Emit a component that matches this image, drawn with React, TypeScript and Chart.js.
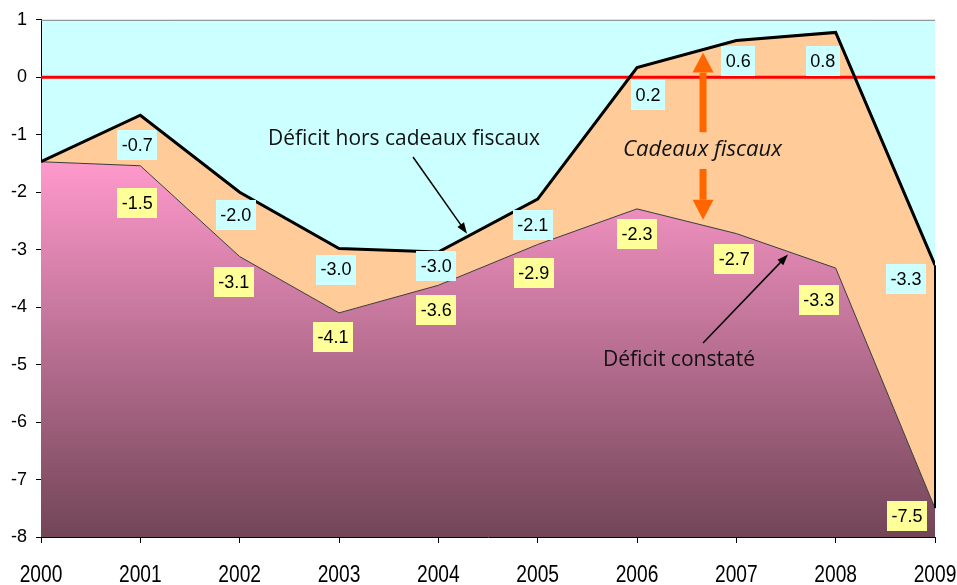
import React, { useEffect, useRef } from "react";
import { Chart, registerables } from "chart.js";

Chart.register(...registerables);

// ---------- data ----------
const years = [2000, 2001, 2002, 2003, 2004, 2005, 2006, 2007, 2008, 2009];
const deficitHorsCadeaux = [-1.47, -0.66, -2.0, -2.98, -3.04, -2.12, 0.17, 0.64, 0.78, -3.27];
const deficitConstate = [-1.47, -1.54, -3.12, -4.1, -3.62, -2.91, -2.29, -2.72, -3.32, -7.5];
const horsLabels = ["", "-0.7", "-2.0", "-3.0", "-3.0", "-2.1", "0.2", "0.6", "0.8", "-3.3"];
const constateLabels = ["", "-1.5", "-3.1", "-4.1", "-3.6", "-2.9", "-2.3", "-2.7", "-3.3", "-7.5"];
const yMin = -8;
const yMax = 1;

// ---------- label placement (px offsets from the point) ----------
const horsLabelOffsets = [[0, 0], [-3, 30], [-4, 23], [-3, 21], [-2, 14], [-5, 26], [11, 28], [2, 21], [-13, 29], [-29, 14]];
const constateLabelOffsets = [[0, 0], [-3, 37], [-6, 25], [-6, 24], [-2, 25], [-4, 29], [0, 25], [-2, 25], [-17, 32], [-28, 8]];

// ---------- annotations (data coordinates) ----------
const textNotes = [
  { text: "Déficit hors cadeaux fiscaux", x: 2002.285, y: -1.181, width: 272, size: 21, italic: false },
  { text: "Déficit constaté", x: 2005.658, y: -5.023, width: 152, size: 21, italic: false },
  { text: "Cadeaux fiscaux", x: 2005.859, y: -1.371, width: 159, size: 22, italic: true },
];
const blackArrows = [
  { from: [2003.745, -1.388], to: [2004.289, -2.721] },
  { from: [2006.665, -4.625], to: [2007.52, -3.085] },
];
const orangeArrows = [
  { x: 2006.665, from: -0.956, to: 0.429 },
  { x: 2006.665, from: -1.596, to: -2.479 },
];

const LABEL_FONT = '18px "Liberation Sans", Arial, sans-serif';
const YEAR_FONT = '24px "Liberation Sans", Arial, sans-serif';
const NOTE_FAMILY = '"Open Sans", "DejaVu Sans", sans-serif';

function fitText(ctx: CanvasRenderingContext2D, text: string, x: number, y: number, width: number, font: string) {
  ctx.font = font;
  const w = ctx.measureText(text).width;
  ctx.save();
  ctx.translate(x, y);
  ctx.scale(width / w, 1);
  ctx.textAlign = "left";
  ctx.textBaseline = "alphabetic";
  ctx.fillStyle = "#111";
  ctx.fillText(text, 0, 0);
  ctx.restore();
}

function drawArrow(ctx: CanvasRenderingContext2D, x1: number, y1: number, x2: number, y2: number) {
  const ang = Math.atan2(y2 - y1, x2 - x1);
  const hl = 11;
  const hw = 4;
  ctx.strokeStyle = "#000";
  ctx.lineWidth = 1.5;
  ctx.beginPath();
  ctx.moveTo(x1, y1);
  ctx.lineTo(x2 - Math.cos(ang) * hl * 0.7, y2 - Math.sin(ang) * hl * 0.7);
  ctx.stroke();
  const bx = x2 - Math.cos(ang) * hl;
  const by = y2 - Math.sin(ang) * hl;
  ctx.fillStyle = "#000";
  ctx.beginPath();
  ctx.moveTo(x2, y2);
  ctx.lineTo(bx + Math.sin(ang) * hw, by - Math.cos(ang) * hw);
  ctx.lineTo(bx - Math.sin(ang) * hw, by + Math.cos(ang) * hw);
  ctx.closePath();
  ctx.fill();
}

const decorPlugin = {
  id: "decor",
  beforeDraw(chart: any) {
    const { ctx, chartArea } = chart;
    const { left, top, right, bottom } = chartArea;
    ctx.save();
    ctx.fillStyle = "#ccffff";
    ctx.fillRect(left, top, right - left, bottom - top);
    ctx.restore();
  },
  afterDatasetsDraw(chart: any) {
    const { ctx, chartArea, scales } = chart;
    const xs = scales.x;
    const ys = scales.y;
    ctx.save();
    // vertical closing edge at the last year
    const last = years.length - 1;
    const lx = xs.getPixelForValue(years[last]);
    ctx.strokeStyle = "#000";
    ctx.lineWidth = 2;
    ctx.beginPath();
    ctx.moveTo(lx, ys.getPixelForValue(deficitHorsCadeaux[last]));
    ctx.lineTo(lx, ys.getPixelForValue(deficitConstate[last]));
    ctx.stroke();

    // top border
    ctx.strokeStyle = "#808080";
    ctx.lineWidth = 1;
    ctx.beginPath();
    ctx.moveTo(chartArea.left, chartArea.top + 0.5);
    ctx.lineTo(chartArea.right, chartArea.top + 0.5);
    ctx.stroke();

    // value labels
    const drawLabel = (text: string, px: number, py: number, bg: string) => {
      if (!text) return;
      ctx.font = LABEL_FONT;
      const tw = ctx.measureText(text).width;
      const w = tw + 9;
      const h = 30;
      ctx.fillStyle = bg;
      ctx.fillRect(Math.round(px - w / 2), Math.round(py - h / 2), Math.round(w), h);
      ctx.fillStyle = "#000";
      ctx.textAlign = "center";
      ctx.textBaseline = "middle";
      ctx.fillText(text, px, py + 1);
    };
    years.forEach((yr, i) => {
      const px = xs.getPixelForValue(yr);
      const [dx1, dy1] = horsLabelOffsets[i];
      drawLabel(horsLabels[i], px + dx1, ys.getPixelForValue(deficitHorsCadeaux[i]) + dy1, "#ccffff");
      const [dx2, dy2] = constateLabelOffsets[i];
      drawLabel(constateLabels[i], px + dx2, ys.getPixelForValue(deficitConstate[i]) + dy2, "#ffff99");
    });

    // text notes
    textNotes.forEach((n) => {
      const font = `${n.italic ? "italic " : ""}${n.size}px ${NOTE_FAMILY}`;
      fitText(ctx, n.text, xs.getPixelForValue(n.x), ys.getPixelForValue(n.y), n.width, font);
    });

    // black arrows
    blackArrows.forEach((a) => {
      drawArrow(
        ctx,
        xs.getPixelForValue(a.from[0]),
        ys.getPixelForValue(a.from[1]),
        xs.getPixelForValue(a.to[0]),
        ys.getPixelForValue(a.to[1])
      );
    });

    // orange block arrows
    orangeArrows.forEach((a) => {
      const x = xs.getPixelForValue(a.x);
      const y0 = ys.getPixelForValue(a.from);
      const y1 = ys.getPixelForValue(a.to);
      const dir = y1 < y0 ? -1 : 1;
      const headLen = 20;
      const headW = 21;
      const shaftW = 7;
      const yb = y1 - dir * headLen;
      ctx.fillStyle = "#ff6600";
      ctx.fillRect(x - shaftW / 2, Math.min(y0, yb), shaftW, Math.abs(yb - y0));
      ctx.beginPath();
      ctx.moveTo(x, y1);
      ctx.lineTo(x - headW / 2, yb);
      ctx.lineTo(x + headW / 2, yb);
      ctx.closePath();
      ctx.fill();
    });
    ctx.restore();
  },
  afterDraw(chart: any) {
    // x-axis year labels, condensed (Arial Narrow proportions)
    const { ctx, chartArea, scales } = chart;
    const xs = scales.x;
    ctx.save();
    ctx.font = YEAR_FONT;
    ctx.fillStyle = "#000";
    ctx.textAlign = "center";
    ctx.textBaseline = "alphabetic";
    years.forEach((yr) => {
      const px = xs.getPixelForValue(yr);
      ctx.save();
      ctx.translate(px, chartArea.bottom + 45);
      ctx.scale(0.8, 1);
      ctx.fillText(String(yr), 0, 0);
      ctx.restore();
    });
    ctx.restore();
  },
};

export default function App() {
  const ref = useRef<HTMLCanvasElement>(null);

  useEffect(() => {
    if (!ref.current) return;
    const topVal = Math.max(...deficitConstate);
    const chart = new Chart(ref.current, {
      type: "line",
      data: {
        datasets: [
          {
            label: "Déficit constaté",
            data: years.map((x, i) => ({ x, y: deficitConstate[i] })),
            borderColor: "#3a3a3a",
            borderWidth: 1,
            pointRadius: 0,
            tension: 0,
            fill: "start",
            order: 3,
            backgroundColor: (c: any) => {
              const ch = c.chart;
              const { chartArea, scales } = ch;
              if (!chartArea || !scales.y) return "#ff99cc";
              const g = ch.ctx.createLinearGradient(0, scales.y.getPixelForValue(topVal), 0, chartArea.bottom);
              g.addColorStop(0, "#ff99cc");
              g.addColorStop(1, "#724557");
              return g;
            },
          },
          {
            label: "Déficit hors cadeaux fiscaux",
            data: years.map((x, i) => ({ x, y: deficitHorsCadeaux[i] })),
            borderColor: "#000000",
            borderWidth: 3,
            pointRadius: 0,
            tension: 0,
            fill: 0,
            backgroundColor: "#ffcc99",
            order: 1,
          },
          {
            label: "zero",
            data: [
              { x: years[0], y: 0 },
              { x: years[years.length - 1], y: 0 },
            ],
            borderColor: "#ff0000",
            borderWidth: 3,
            pointRadius: 0,
            fill: false,
            order: 2,
          },
        ],
      },
      options: {
        animation: false,
        responsive: true,
        maintainAspectRatio: false,
        layout: { padding: { left: 0, right: 22, top: 17, bottom: 0 } },
        plugins: {
          legend: { display: false },
          tooltip: { enabled: false },
          filler: { drawTime: "beforeDatasetsDraw", propagate: false },
        } as any,
        scales: {
          x: {
            type: "linear",
            min: years[0],
            max: years[years.length - 1],
            afterFit: (s: any) => {
              s.height = 48;
            },
            ticks: {
              stepSize: 1,
              autoSkip: false,
              display: false,
            },
            grid: { display: true, drawOnChartArea: false, drawTicks: true, tickLength: 6, color: "#000" },
            border: { display: true, color: "#000", width: 1 },
          },
          y: {
            type: "linear",
            min: yMin,
            max: yMax,
            afterFit: (s: any) => {
              s.width = 41;
            },
            ticks: {
              stepSize: 1,
              padding: 9,
              color: "#000",
              font: { family: '"Liberation Sans", Arial, sans-serif', size: 18 },
              callback: (v: any) => String(v),
            },
            grid: { display: true, drawOnChartArea: false, drawTicks: true, tickLength: 5, color: "#000" },
            border: { display: true, color: "#000", width: 1 },
          },
        },
      },
      plugins: [decorPlugin],
    } as any);
    return () => chart.destroy();
  }, []);

  return (
    <div style={{ position: "absolute", left: 0, top: 0, width: 957, height: 585 }}>
      <canvas ref={ref} />
    </div>
  );
}
